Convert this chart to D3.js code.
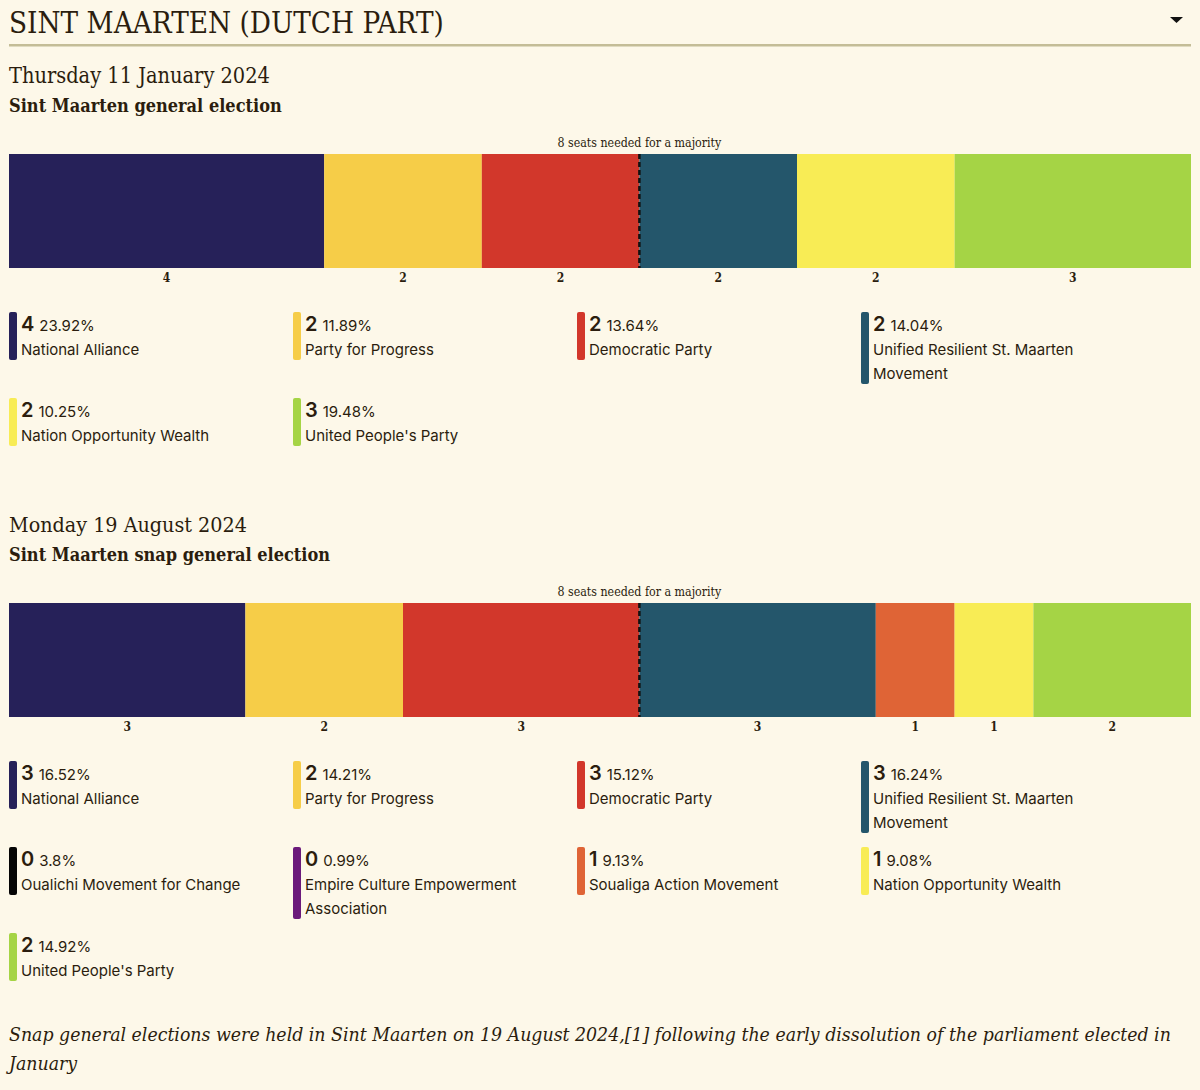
<!DOCTYPE html>
<html>
<head>
<meta charset="utf-8">
<script src="https://cdn.jsdelivr.net/npm/d3@7"></script>
<style>
  body { margin: 0; background: #fdf8e9; }
  svg { display: block; }
  .serif { font-family: "Roboto Slab", "DejaVu Serif Condensed", "DejaVu Serif", serif; fill: #2b1d0e; }
  .sans { font-family: Inter, "Noto Sans", sans-serif; fill: #2b1d0e; }
</style>
</head>
<body>
<div id="chart"></div>
<script>
var totalSeats = 15;
var majority = 8;

var dates = ["Thursday 11 January 2024", "Monday 19 August 2024"];
var titles = ["Sint Maarten general election", "Sint Maarten snap general election"];

var parties1 = ["National Alliance", "Party for Progress", "Democratic Party",
    "Unified Resilient St. Maarten Movement", "Nation Opportunity Wealth", "United People's Party"];
var seats1 = [4, 2, 2, 2, 2, 3];
var pct1 = [23.92, 11.89, 13.64, 14.04, 10.25, 19.48];

var parties2 = ["National Alliance", "Party for Progress", "Democratic Party",
    "Unified Resilient St. Maarten Movement", "Oualichi Movement for Change",
    "Empire Culture Empowerment Association", "Soualiga Action Movement",
    "Nation Opportunity Wealth", "United People's Party"];
var seats2 = [3, 2, 3, 3, 0, 0, 1, 1, 2];
var pct2 = [16.52, 14.21, 15.12, 16.24, 3.8, 0.99, 9.13, 9.08, 14.92];

var partyColors = {
    "National Alliance": "#262159",
    "Party for Progress": "#f6cd48",
    "Democratic Party": "#d2372b",
    "Unified Resilient St. Maarten Movement": "#24566b",
    "Nation Opportunity Wealth": "#f8ec55",
    "United People's Party": "#a5d445",
    "Oualichi Movement for Change": "#050505",
    "Empire Culture Empowerment Association": "#6b1a7b",
    "Soualiga Action Movement": "#df6436"
};

var footnote = ["Snap general elections were held in Sint Maarten on 19 August 2024,[1] following the early dissolution of the parliament elected in",
    "January"];

var width = 1200, height = 1090;
var left = 9, right = 1191;

var svg = d3.select("#chart").append("svg")
    .attr("width", width)
    .attr("height", height);

// shrink font size of a text until it fits the wanted width
function fitWidth(sel, wanted) {
    var fs = parseFloat(sel.style("font-size"));
    var w = sel.node().getComputedTextLength();
    if (w > 0) sel.style("font-size", (fs * wanted / w) + "px");
}

// header
var head = svg.append("text").attr("class", "serif")
    .attr("x", left).attr("y", 33)
    .style("font-size", "29px")
    .text("SINT MAARTEN (DUTCH PART)");
fitWidth(head, 435);
svg.append("rect")
    .attr("x", left).attr("y", 44)
    .attr("width", right - left).attr("height", 2.5)
    .attr("fill", "#c4bd97");
svg.append("path")
    .attr("d", "M1170,17 L1183,17 L1176.5,23 Z")
    .attr("fill", "#111");

var x = d3.scaleLinear().domain([0, totalSeats]).range([left, right]);

function wrap(textSel, maxWidth, lineHeight) {
    var words = textSel.text().split(" ");
    var xPos = textSel.attr("x"), y0 = +textSel.attr("y");
    textSel.text(null);
    var line = [], n = 0;
    var tspan = textSel.append("tspan").attr("x", xPos).attr("y", y0);
    words.forEach(function (w) {
        line.push(w);
        tspan.text(line.join(" "));
        if (tspan.node().getComputedTextLength() > maxWidth && line.length > 1) {
            line.pop();
            tspan.text(line.join(" "));
            line = [w];
            n++;
            tspan = textSel.append("tspan").attr("x", xPos).attr("y", y0 + n * lineHeight).text(w);
        }
    });
    return n + 1;
}

function drawElection(top, idx, parties, seats, pct) {
    var g = svg.append("g").attr("transform", "translate(0," + top + ")");

    var dt = g.append("text").attr("class", "serif")
        .attr("x", left).attr("y", 0)
        .style("font-size", "22px").style("font-weight", 300)
        .text(dates[idx]);
    fitWidth(dt, idx === 0 ? 261 : 238);
    g.append("text").attr("class", "serif")
        .attr("x", left).attr("y", 29)
        .style("font-size", "18px").style("font-weight", "bold")
        .text(titles[idx]);

    var barTop = 71, barH = 114;

    var maj = g.append("text").attr("class", "serif")
        .attr("x", x(majority)).attr("y", barTop - 7)
        .attr("text-anchor", "middle")
        .style("font-size", "12px")
        .text(majority + " seats needed for a majority");
    fitWidth(maj, 164);

    var cum = 0;
    var segs = [];
    parties.forEach(function (p, i) {
        if (seats[i] > 0) segs.push({ party: p, start: cum, seats: seats[i] });
        cum += seats[i];
    });

    g.selectAll("rect.seg").data(segs).enter().append("rect")
        .attr("class", "seg")
        .attr("x", function (d) { return x(d.start); })
        .attr("y", barTop)
        .attr("width", function (d) { return x(d.start + d.seats) - x(d.start); })
        .attr("height", barH)
        .attr("fill", function (d) { return partyColors[d.party]; });

    g.selectAll("text.seat").data(segs).enter().append("text")
        .attr("class", "serif seat")
        .attr("x", function (d) { return x(d.start + d.seats / 2); })
        .attr("y", barTop + barH + 14)
        .attr("text-anchor", "middle")
        .style("font-size", "12px").style("font-weight", "bold")
        .text(function (d) { return d.seats; });

    g.append("line")
        .attr("x1", x(majority)).attr("x2", x(majority))
        .attr("y1", barTop).attr("y2", barTop + barH)
        .attr("stroke", "#111").attr("stroke-width", 2.5)
        .attr("stroke-dasharray", "5,3");

    // legend
    var colW = 284, lineH = 24;
    var rowY = barTop + barH + 44;
    var maxLines = 0;
    parties.forEach(function (p, i) {
        var col = i % 4;
        if (col === 0 && i > 0) {
            rowY += (maxLines + 1) * lineH + 14;
            maxLines = 0;
        }
        var lx = left + col * colW;
        var item = g.append("g");
        var t = item.append("text").attr("class", "sans")
            .attr("x", lx + 12).attr("y", rowY + 19);
        t.append("tspan").style("font-size", "20px").style("font-weight", 600).text(seats[i]);
        t.append("tspan").style("font-size", "15px").attr("dx", 5).text(pct[i] + "%");
        var name = item.append("text").attr("class", "sans")
            .attr("x", lx + 12).attr("y", rowY + 43)
            .style("font-size", "15px")
            .text(p);
        var n = wrap(name, 262, lineH);
        maxLines = Math.max(maxLines, n);
        item.insert("rect", ":first-child")
            .attr("x", lx).attr("y", rowY)
            .attr("width", 8).attr("height", (n + 1) * lineH)
            .attr("rx", 2)
            .attr("fill", partyColors[p]);
    });
    return top + rowY + (maxLines + 1) * lineH;
}

var end1 = drawElection(83, 0, parties1, seats1, pct1);
var end2 = drawElection(end1 + 86, 1, parties2, seats2, pct2);

var foot = svg.append("text").attr("class", "serif")
    .attr("x", left).attr("y", end2 + 60)
    .style("font-size", "20px").style("font-style", "italic").style("font-weight", 300);
footnote.forEach(function (l, i) {
    foot.append("tspan").attr("x", left).attr("y", end2 + 60 + i * 29).text(l);
});
var firstLine = foot.select("tspan").node().getComputedTextLength();
foot.style("font-size", (20 * 1163 / firstLine) + "px");
</script>
</body>
</html>
